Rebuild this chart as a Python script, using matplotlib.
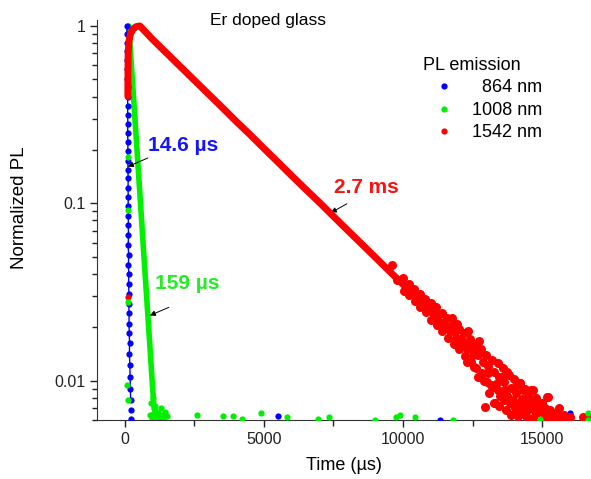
import matplotlib
matplotlib.use('Agg')
import matplotlib.pyplot as plt
from matplotlib.lines import Line2D

plt.rcParams['font.family'] = ['Liberation Sans', 'DejaVu Sans']

# 864 nm (blue) - fast decay column near t = 0
blue_t = [75, 80, 82, 88, 90, 95, 92, 100, 98, 105, 102, 110, 100, 112, 108, 118, 110, 122, 115, 125,
          118, 128, 125, 132, 120, 138, 130, 142, 135, 150, 140, 155, 150, 160, 170, 165, 180, 190, 200, 210]
blue_v = [1.0, 0.9, 0.8, 0.72, 0.64, 0.57, 0.5, 0.45, 0.4, 0.355, 0.315, 0.28, 0.25, 0.222, 0.196, 0.174,
          0.155, 0.138, 0.122, 0.108, 0.096, 0.085, 0.075, 0.066, 0.058, 0.051, 0.045, 0.04, 0.035, 0.031,
          0.027, 0.024, 0.021, 0.0185, 0.0162, 0.0142, 0.0122, 0.0105, 0.009, 0.0078]
blue_noise_t = [5500, 11330, 16010, 205, 215]
blue_noise_v = [0.0063, 0.0060, 0.0066, 0.0068, 0.0061]

# 1008 nm (green)
green_t = [144, 224, 320, 438, 555, 672, 790, 909, 1004, 1054]
green_v = [1.0, 0.643, 0.383, 0.200, 0.105, 0.0546, 0.0287, 0.0150, 0.0089, 0.0069]
green_tail_t = [950, 1000, 1050, 1100, 1150, 1200, 1250, 1300, 1350, 1400, 1450, 1500, 1000, 1080, 900, 980]
green_tail_v = [0.0075, 0.0065, 0.0062, 0.0068, 0.0063, 0.0066, 0.0061, 0.0070, 0.0064, 0.0062, 0.0067,
                0.0063, 0.0080, 0.0072, 0.0064, 0.0061]
green_noise_t = [108, 108, 108, 72, 108, 2590, 3525, 3885, 4210, 4890, 5830, 6940, 7340, 8990, 9750,
                 9890, 10430, 11800, 14930, 16660, 16660]
green_noise_v = [0.183, 0.092, 0.0276, 0.0095, 0.0078, 0.0064, 0.0063, 0.0063, 0.0061, 0.0066, 0.0062,
                 0.0061, 0.0062, 0.0060, 0.0062, 0.0064, 0.0062, 0.0060, 0.0061, 0.0066, 0.0060]

# 1542 nm (red) - rise then 2.7 ms decay
red_t = [110, 112, 115, 120, 150, 200, 300, 400, 540, 1000, 1500, 2000, 2500, 3000, 3500, 4000, 4500,
         5000, 5500, 6000, 6500, 7000, 7500, 8000, 8500, 9000, 9500, 10000, 10500, 11000]
red_v = [0.40, 0.48, 0.58, 0.70, 0.82, 0.90, 0.96, 0.99, 1.0, 0.839, 0.703, 0.589, 0.494, 0.414, 0.347,
         0.290, 0.244, 0.204, 0.171, 0.143, 0.120, 0.101, 0.0844, 0.0707, 0.0593, 0.0497, 0.0416,
         0.0349, 0.0292, 0.0245]

# noisy tail of the red decay, (time, value)
red_tail = [
    (9600, 0.045), (9800, 0.037), (10000, 0.038), (10050, 0.032), (10200, 0.035), (10230, 0.0305),
    (10280, 0.0335), (10400, 0.033), (10450, 0.028), (10600, 0.031), (10620, 0.026), (10680, 0.0285),
    (10800, 0.029), (10830, 0.0245), (10870, 0.027), (11000, 0.0275), (11020, 0.022), (11080, 0.025),
    (11200, 0.026), (11230, 0.0205), (11270, 0.0235), (11400, 0.024), (11420, 0.019), (11480, 0.0215),
    (11600, 0.0225), (11630, 0.0175), (11660, 0.020), (11800, 0.021), (11820, 0.016), (11870, 0.0188),
    (11750, 0.0225), (12000, 0.0195), (12030, 0.015), (12080, 0.0172), (11950, 0.021),
    (12200, 0.0185), (12220, 0.0138), (12260, 0.016), (12300, 0.0128), (12400, 0.0172), (12430, 0.0128),
    (12470, 0.015), (12350, 0.019), (12600, 0.016), (12620, 0.0118), (12680, 0.0139), (12700, 0.0105),
    (12800, 0.015), (12830, 0.011), (12870, 0.0128), (12750, 0.0168), (13000, 0.014), (13020, 0.0098),
    (13070, 0.0121), (13100, 0.0085), (13200, 0.013), (13230, 0.0092), (13260, 0.0112), (13280, 0.0075),
    (13400, 0.0125), (13420, 0.0088), (13470, 0.0105), (13500, 0.0082), (13600, 0.0118), (13620, 0.0078),
    (13650, 0.0098), (13680, 0.0088), (13700, 0.0068), (13800, 0.0108), (13830, 0.0075), (13870, 0.0091),
    (13900, 0.0064), (14000, 0.0102), (14030, 0.0070), (14060, 0.0085), (14100, 0.0094), (14120, 0.0063),
    (14200, 0.0097), (14230, 0.0066), (14270, 0.0079), (14300, 0.0088), (14400, 0.0090), (14420, 0.0063),
    (14470, 0.0074), (14500, 0.0082), (14600, 0.0089), (14630, 0.0061), (14670, 0.0069), (14700, 0.0076),
    (14800, 0.0080), (14830, 0.0062), (14860, 0.0066), (14900, 0.0072), (15000, 0.0075), (15030, 0.0061),
    (15070, 0.0065), (15200, 0.0081), (15230, 0.0063), (15270, 0.0068), (15400, 0.0066), (15450, 0.0061),
    (15600, 0.0070), (15650, 0.0062), (15800, 0.0064), (15850, 0.0061), (16000, 0.0062), (16470, 0.0062),
    (16700, 0.0061), (12660, 0.0155), (12950, 0.0071), (13310, 0.0075), (13740, 0.0112), (14210, 0.0097),
    (14680, 0.0089), (15180, 0.0081),
    (12900, 0.0100), (13050, 0.0110), (13150, 0.0095), (13350, 0.0096), (13450, 0.0072), (13550, 0.0105),
    (13750, 0.0082), (13950, 0.0078), (14050, 0.0066), (14150, 0.0074), (14250, 0.0070), (14350, 0.0065),
    (14450, 0.0068), (14550, 0.0079), (14750, 0.0063), (14950, 0.0066), (15100, 0.0070), (15150, 0.0061),
    (15350, 0.0063), (15500, 0.0065), (15550, 0.0061), (15700, 0.0063), (12100, 0.0160), (12300, 0.0150),
    (12500, 0.0140), (12550, 0.0120), (11900, 0.0175), (11700, 0.0190), (11500, 0.0200), (11300, 0.0215),
    (11100, 0.0235),
]
red_noise_t = [108]
red_noise_v = [0.0297]

BLUE = '#0000ff'
GREEN = '#00f000'
RED = '#ff0000'

fig = plt.figure(figsize=(5.91, 4.79), dpi=100)
ax = fig.add_axes([97 / 591, 59 / 479, 494 / 591, 400 / 479])

tail_t = [p[0] for p in red_tail]
tail_v = [p[1] for p in red_tail]

ax.plot(green_t, green_v, '-', color=GREEN, lw=4, solid_capstyle='round', zorder=2)
ax.plot(green_tail_t, green_tail_v, 'o', color=GREEN, ms=4.5, mec='none', zorder=2)
ax.plot(blue_t, blue_v, 'o-', color=BLUE, lw=1, ms=4.5, mec='none', zorder=3)
ax.plot(blue_noise_t, blue_noise_v, 'o', color=BLUE, ms=4.5, mec='none', zorder=3)
ax.plot(red_t, red_v, '-', color=RED, lw=5, solid_capstyle='round', zorder=4)
ax.plot(tail_t, tail_v, 'o', color=RED, ms=6.5, mec='none', zorder=4)
ax.plot(red_noise_t, red_noise_v, 'o', color=RED, ms=4.5, mec='none', zorder=5)
ax.plot(green_noise_t, green_noise_v, 'o', color=GREEN, ms=4.5, mec='none', zorder=5)

ax.set_yscale('log')
ax.set_xlim(-1000, 16760)
ax.set_ylim(0.006, 1.08)
ax.set_xticks([0, 5000, 10000, 15000])
ax.set_xticks([2500, 7500, 12500], minor=True)
ax.set_yticks([0.01, 0.1, 1])
ax.set_yticklabels(['0.01', '0.1', '1'])
ax.tick_params(which='both', direction='out', labelsize=11.5, colors='#222222')
ax.tick_params(which='major', length=5, width=1)
ax.tick_params(which='minor', length=3.5, width=1)
ax.tick_params(axis='x', which='minor', length=4)
ax.tick_params(axis='y', which='minor', labelleft=False)
for s in ['top', 'right']:
    ax.spines[s].set_visible(False)
for s in ['left', 'bottom']:
    ax.spines[s].set_color('#333333')

ax.set_xlabel('Time (\u00b5s)', fontsize=13)
ax.set_ylabel('Normalized PL', fontsize=13.5)
ax.yaxis.set_label_coords(-0.14, 0.53)
ax.xaxis.set_label_coords(0.5, -0.092)

fig.text(210 / 591, 1 - 20 / 479, 'Er doped glass', fontsize=12.5, ha='left', va='center')

# annotations
arrow = dict(arrowstyle='-|>', color='black', lw=0.7, mutation_scale=8, shrinkA=0, shrinkB=0)
ax.annotate('', xy=(108, 0.161), xytext=(827, 0.180), arrowprops=arrow)
ax.text(827, 0.213, '14.6 \u00b5s', color='#1515ff', fontsize=15, fontweight='bold', va='center')
ax.annotate('', xy=(899, 0.0233), xytext=(1583, 0.0259), arrowprops=arrow)
ax.text(1079, 0.0352, '159 \u00b5s', color='#22ee22', fontsize=15, fontweight='bold', va='center')
ax.annotate('', xy=(7410, 0.0885), xytext=(7985, 0.0994), arrowprops=arrow)
ax.text(7518, 0.122, '2.7 ms', color='#ff1010', fontsize=15, fontweight='bold', va='center')

handles = [Line2D([], [], ls='none', marker='o', ms=4.5, mec='none', color=c) for c in (BLUE, GREEN, RED)]
leg = fig.legend(handles, ['  864 nm', '1008 nm', '1542 nm'], title='PL emission',
                 loc='upper left', bbox_to_anchor=(414 / 591, 1 - 48 / 479), frameon=False,
                 fontsize=13, title_fontsize=13, handlelength=2.3, handletextpad=0.4,
                 labelspacing=0.3, borderpad=0, alignment='left')

fig.savefig('out.png', dpi=100)
